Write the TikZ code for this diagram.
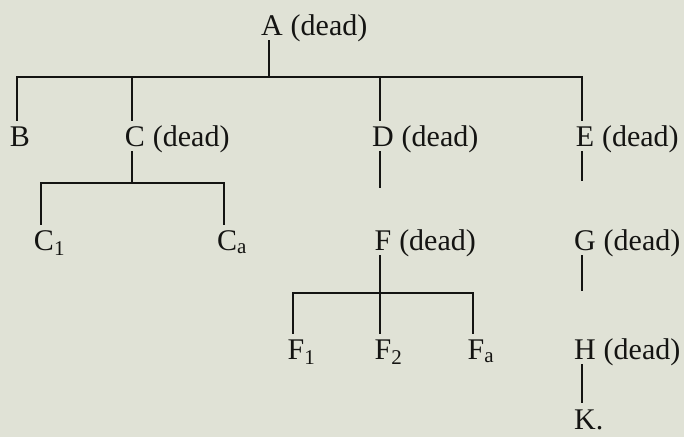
\documentclass[tikz,border=0pt]{standalone}
\usepackage{fontspec}
\setmainfont{Liberation Serif}
\usepackage{xcolor}

\definecolor{paper}{RGB}{224,226,214}
\definecolor{ink}{RGB}{20,20,18}

\begin{document}
\begin{tikzpicture}[
    x=1pt, y=-1pt,
    person/.style={inner xsep=0pt, inner ysep=6pt, text height=20pt, text depth=0pt, anchor=base, font=\fontsize{30}{36}\selectfont, text=ink},
    tree/.style={person, execute at begin node={\hspace*{6pt}}},
    dead/.style={label={[person, anchor=west, xshift=7.5pt]east:(dead)}},
    line/.style={draw=ink, line width=1.8pt, line cap=rect},
    gap/.style={line, shorten >=#1}
]

% Page
\path[use as bounding box, fill=paper] (0,0) rectangle (684,437);

% Founder
\node[tree, dead] (A) at (269,35) {A};

% Sons of A
\node[tree] (B) at (17,146) {B};
\node[tree, dead] (C) at (132,146) {C};
\node[tree, dead] (D) at (380,146) {D};
\node[tree, dead] (E) at (582,146) {E};

% Grandsons
\node[tree] (C1) at (41,250) {C\rlap{\textsubscript{1}}};
\node[tree] (Ca) at (224,250) {C\rlap{\textsubscript{a}}};
\node[tree, dead] (F) at (380,250) {F};
\node[tree, dead] (G) at (582,250) {G};

% Next generation
\node[tree] (F1) at (293,359) {F\rlap{\textsubscript{1}}};
\node[tree] (F2) at (380,359) {F\rlap{\textsubscript{2}}};
\node[tree] (Fa) at (473,359) {F\rlap{\textsubscript{a}}};
\node[tree, dead] (H) at (582,359) {H};
\node[tree, inner ysep=3pt] (K) at (582,429) {K\rlap{.}};

% Branch levels
\coordinate (barA) at (0,77);
\coordinate (barC) at (0,183);
\coordinate (barF) at (0,293);

% A and his sons
\draw[line] (A) -- (A |- barA);
\draw[line] (B |- barA) -- (E |- barA);
\foreach \n in {B,C,D,E}
    \draw[line] (\n |- barA) -- (\n);

% C's line
\draw[line] (C) -- (C |- barC);
\draw[line] (C1 |- barC) -- (Ca |- barC);
\foreach \n in {C1,Ca}
    \draw[line] (\n |- barC) -- (\n);

% D's line
\draw[gap=37pt] (D) -- (F);
\draw[line] (F) -- (F2);
\draw[line] (F1 |- barF) -- (Fa |- barF);
\foreach \n in {F1,Fa}
    \draw[line] (\n |- barF) -- (\n);

% E's line
\draw[gap=44pt] (E) -- (G);
\draw[gap=43pt] (G) -- (H);
\draw[gap=4pt] (H) -- (K);

\end{tikzpicture}
\end{document}
